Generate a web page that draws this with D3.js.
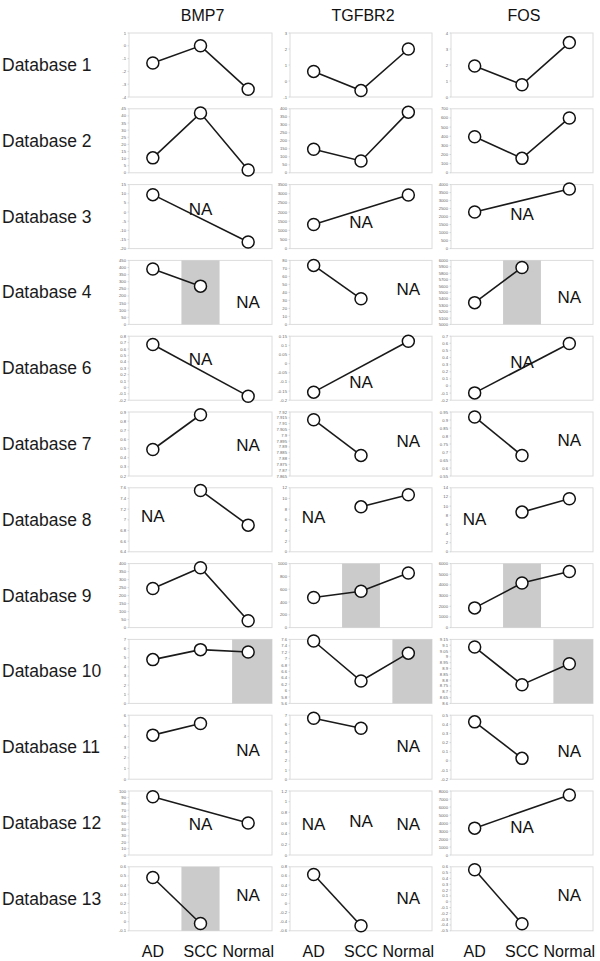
<!DOCTYPE html>
<html><head><meta charset="utf-8">
<script src="https://cdn.jsdelivr.net/npm/d3@7"></script>
<style>body{margin:0;background:#fff} svg{display:block}</style>
</head><body><svg id="c" width="600" height="961"></svg>
<script>
const genes = ["BMP7", "TGFBR2", "FOS"];
const databases = ["Database 1","Database 2","Database 3","Database 4","Database 6","Database 7",
  "Database 8","Database 9","Database 10","Database 11","Database 12","Database 13"];
const categories = ["AD", "SCC", "Normal"];

// values[row][gene] = [AD, SCC, Normal]; null = NA
const values = [
  [[-1.35, 0, -3.4], [0.6, -0.6, 2.0], [1.94, 0.77, 3.4]],
  [[10.5, 42, 2], [147, 74, 379], [394, 158, 600]],
  [[9.5, null, -16.4], [1320, null, 2930], [2290, null, 3730]],
  [[390, 269, null], [73.75, 32, null], [5340, 5890, null]],
  [[0.67, null, -0.137], [-0.156, null, 0.122], [-0.097, null, 0.597]],
  [[0.49, 0.87, null], [7.9134, 7.8827, null], [0.919, 0.678, null]],
  [[null, 7.55, 6.90], [null, 8.43, 10.7], [null, 8.68, 11.6]],
  [[244, 374, 43], [470, 568, 854], [1849, 4184, 5254]],
  [[4.79, 5.88, 5.62], [7.55, 6.30, 7.17], [9.084, 8.761, 8.94]],
  [[4.13, 5.22, null], [6.67, 5.58, null], [0.427, 0.028, null]],
  [[91, null, 50], [null, null, null], [3357, null, 7503]],
  [[0.483, -0.02, null], [0.63, -0.49, null], [0.55, -0.38, null]]
];
// y axis domain [min, max] per panel
const yDomains = [
  [[-4, 1], [-1, 3], [0, 4]],
  [[0, 45], [0, 400], [0, 700]],
  [[-20, 15], [0, 3500], [0, 4000]],
  [[0, 450], [0, 80], [5000, 6000]],
  [[-0.2, 0.8], [-0.2, 0.15], [-0.2, 0.7]],
  [[0.2, 0.9], [7.865, 7.92], [0.55, 0.95]],
  [[6.4, 7.6], [0, 12], [0, 14]],
  [[0, 400], [0, 1000], [0, 6000]],
  [[0, 7], [5.6, 7.6], [8.6, 9.15]],
  [[0, 6], [0, 7], [-0.2, 0.5]],
  [[0, 100], [0, 1.2], [0, 8000]],
  [[-0.1, 0.6], [-0.6, 0.8], [-0.5, 0.6]]
];
// tick step per panel
const yTickSteps = [
  [1, 1, 1],
  [5, 50, 100],
  [5, 500, 500],
  [50, 10, 100],
  [0.1, 0.05, 0.1],
  [0.1, 0.005, 0.05],
  [0.2, 2, 2],
  [50, 200, 1000],
  [1, 0.2, 0.05],
  [1, 1, 0.1],
  [10, 0.2, 1000],
  [0.1, 0.2, 0.1]
];
// shaded category per panel
const shaded = [
  [null, null, null], [null, null, null], [null, null, null],
  ["SCC", null, "SCC"], [null, null, null], [null, null, null],
  [null, null, null], [null, "SCC", "SCC"], ["Normal", "Normal", "Normal"],
  [null, null, null], [null, null, null], ["SCC", null, null]
];
// NA annotations per panel: [category, y value]
const naNotes = [
  [[], [], []],
  [[], [], []],
  [[["SCC", 1.5]], [["SCC", 1453]], [["SCC", 2150]]],
  [[["Normal", 155]], [["Normal", 44]], [["Normal", 5420]]],
  [[["SCC", 0.44]], [["SCC", -0.102]], [["SCC", 0.33]]],
  [[["Normal", 0.53]], [["Normal", 7.895]], [["Normal", 0.77]]],
  [[["AD", 7.07]], [["AD", 6.4]], [["AD", 7]]],
  [[], [], []],
  [[], [], []],
  [[["Normal", 2.7]], [["Normal", 3.6]], [["Normal", 0.108]]],
  [[["SCC", 48]], [["AD", 0.58], ["SCC", 0.62], ["Normal", 0.58]], [["SCC", 3500]]],
  [[["Normal", 0.285]], [["Normal", 0.1]], [["Normal", 0.1]]]
];

const svg = d3.select("#c");
const FONT = "'Liberation Sans', Arial, sans-serif";
const colX = [[129, 272], [290, 432], [451, 593]];
const rowTop = i => 33 + i * 75.8;
const panelH = 64;

// column titles
genes.forEach((g, j) => {
  svg.append("text").attr("x", (colX[j][0] + colX[j][1]) / 2 + 2).attr("y", 21)
    .attr("text-anchor", "middle").attr("font-family", FONT).attr("font-size", 16)
    .attr("fill", "#111").text(g);
});

const fmt = v => String(+v.toFixed(4));

databases.forEach((db, i) => {
  const top = rowTop(i), bottom = top + panelH;
  svg.append("text").attr("x", 2).attr("y", top + panelH / 2)
    .attr("dominant-baseline", "central").attr("font-family", FONT)
    .attr("font-size", 17.5).attr("fill", "#1a1a1a").text(db);

  genes.forEach((g, j) => {
    const [x0, x1] = colX[j];
    const x = d3.scalePoint().domain(categories).range([x0, x1]).padding(0.5);
    const band = d3.scaleBand().domain(categories).range([x0, x1]).paddingInner(0.2).paddingOuter(0.1);
    const y = d3.scaleLinear().domain(yDomains[i][j]).range([bottom, top]);
    const gp = svg.append("g");

    gp.append("rect").attr("x", x0).attr("y", top).attr("width", x1 - x0).attr("height", panelH)
      .attr("fill", "#fff").attr("stroke", "#dcdcdc").attr("stroke-width", 1);

    const sc = shaded[i][j];
    if (sc) {
      const isLast = sc === categories[categories.length - 1];
      const sx = band(sc) + (isLast ? 3 : 0);
      const sw = isLast ? x1 - sx : band.bandwidth();
      gp.append("rect").attr("x", sx).attr("y", top).attr("width", sw).attr("height", panelH)
        .attr("fill", "#cbcbcb");
    }

    const [d0, d1] = yDomains[i][j];
    const step = yTickSteps[i][j];
    const ticks = d3.range(0, Math.round((d1 - d0) / step) + 1).map(k => d0 + k * step);
    gp.selectAll(".tk").data(ticks).join("text")
      .attr("x", x0 - 3).attr("y", d => y(d)).attr("text-anchor", "end")
      .attr("dominant-baseline", "central").attr("font-family", FONT)
      .attr("font-size", 4.2).attr("fill", "#666").text(d => fmt(d));
    gp.selectAll(".tm").data(ticks).join("line")
      .attr("x1", x0 - 1.5).attr("x2", x0).attr("y1", d => y(d)).attr("y2", d => y(d))
      .attr("stroke", "#bbb").attr("stroke-width", 0.5);

    const pts = categories.map((c, k) => ({ c, v: values[i][j][k] })).filter(d => d.v !== null);
    if (pts.length > 1) {
      gp.append("path").datum(pts)
        .attr("d", d3.line().x(d => x(d.c)).y(d => y(d.v)))
        .attr("fill", "none").attr("stroke", "#1a1a1a").attr("stroke-width", 1.6);
    }
    gp.selectAll("circle").data(pts).join("circle")
      .attr("cx", d => x(d.c)).attr("cy", d => y(d.v)).attr("r", 6)
      .attr("fill", "#fff").attr("stroke", "#111").attr("stroke-width", 1.5);

    gp.selectAll(".na").data(naNotes[i][j]).join("text")
      .attr("x", d => x(d[0])).attr("y", d => y(d[1]))
      .attr("text-anchor", "middle").attr("dominant-baseline", "central")
      .attr("font-family", FONT).attr("font-size", 17).attr("fill", "#111").text("NA");
  });
});

// bottom category labels
colX.forEach(([x0, x1]) => {
  const x = d3.scalePoint().domain(categories).range([x0, x1]).padding(0.5);
  svg.selectAll(null).data(categories).enter().append("text")
    .attr("x", d => x(d)).attr("y", 951).attr("text-anchor", "middle")
    .attr("dominant-baseline", "central").attr("font-family", FONT)
    .attr("font-size", 16).attr("fill", "#111").text(d => d);
});
</script></body></html>
